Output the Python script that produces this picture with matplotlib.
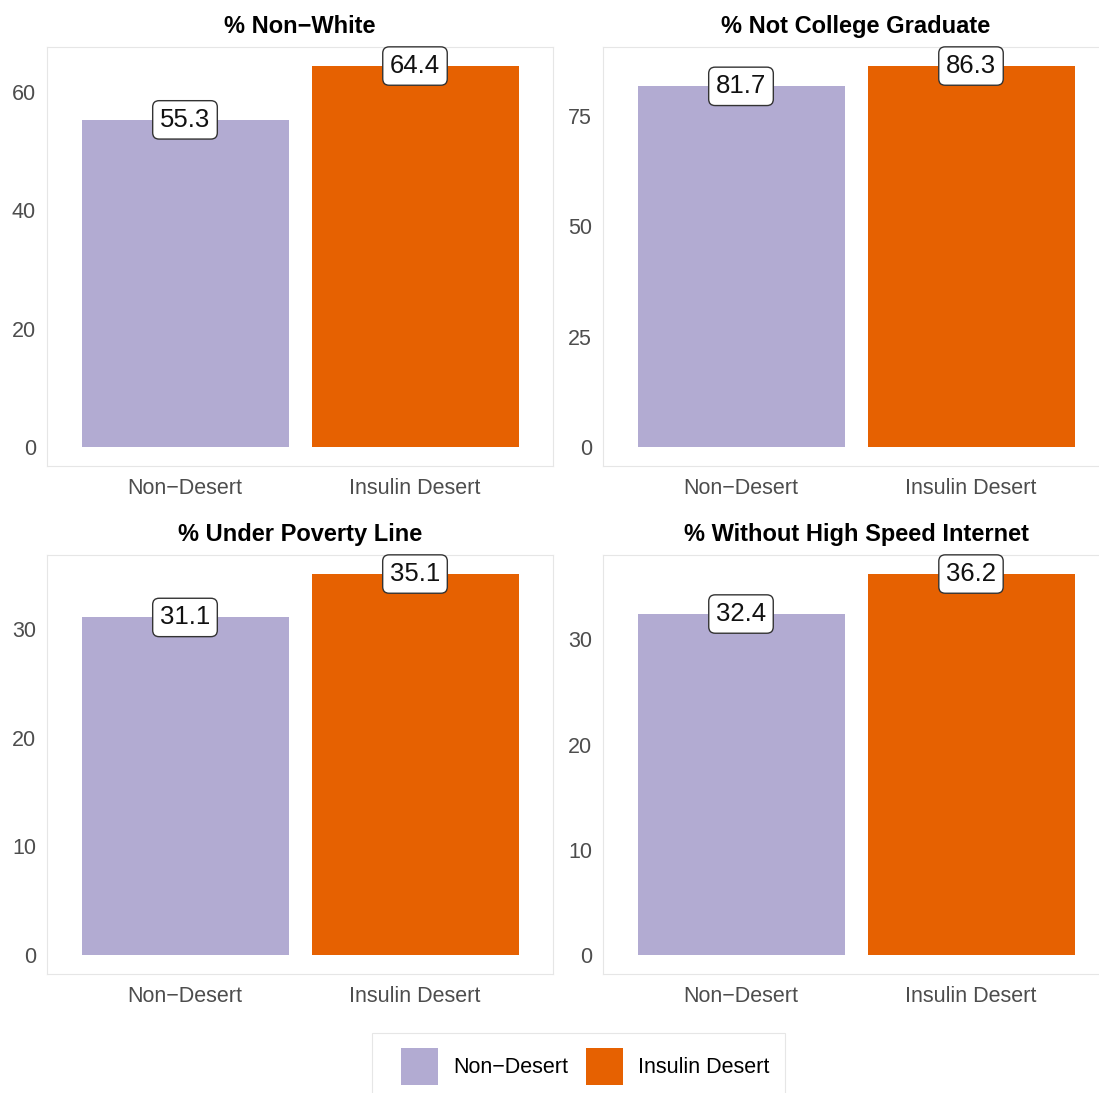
import matplotlib
matplotlib.use("Agg")
import matplotlib.pyplot as plt
from matplotlib.patches import Patch, Rectangle

plt.rcParams['font.family'] = ['Liberation Sans', 'DejaVu Sans']

categories = ["Non\u2212Desert", "Insulin Desert"]
titles = ["% Non\u2212White", "% Not College Graduate",
          "% Under Poverty Line", "% Without High Speed Internet"]
non_desert = [55.3, 81.7, 31.1, 32.4]
insulin_desert = [64.4, 86.3, 35.1, 36.2]
yticks = [[0, 20, 40, 60], [0, 25, 50, 75], [0, 10, 20, 30], [0, 10, 20, 30]]

colors = ["#b2abd2", "#e66101"]
W, H = 1099, 1093

fig = plt.figure(figsize=(W / 100, H / 100), dpi=100)

# panel boxes in pixels: left, top, right, bottom (right column runs off the canvas)
boxes = [(47, 47, 553, 466), (603, 47, 1109, 466),
         (47, 555, 553, 974), (603, 555, 1109, 974)]

for i, (l, t, r, b) in enumerate(boxes):
    ax = fig.add_axes([l / W, 1 - b / H, (r - l) / W, (b - t) / H])
    vals = [non_desert[i], insulin_desert[i]]
    x = [1, 2]
    ax.bar(x, vals, width=0.9, color=colors)
    top = max(vals)
    ax.set_ylim(-0.05 * top, top * 1.05)
    ax.set_xlim(0.4, 2.6)
    ax.set_xticks(x)
    ax.set_xticklabels(categories)
    ax.set_yticks(yticks[i])
    ax.tick_params(length=0, labelsize=15.5, labelcolor="#4d4d4d")
    ax.tick_params(axis="x", pad=9)
    ax.tick_params(axis="y", pad=8)
    for s in ax.spines.values():
        s.set_color("#e6e6e6")
        s.set_linewidth(0.8)
    for xi, v in zip(x, vals):
        ax.text(xi, v, f"{v:.1f}", ha="center", va="center", fontsize=18.5,
                color="#111111",
                bbox=dict(boxstyle="round,pad=0.28,rounding_size=0.25",
                          fc="white", ec="#333333", lw=1.0))
    ax.set_title(titles[i], fontsize=17, fontweight="bold", pad=10)

# legend frame
fig.patches.append(Rectangle((372 / W, 1 - 1100 / H), (785 - 372) / W, 67 / H,
                             transform=fig.transFigure, fc="white",
                             ec="#e6e6e6", lw=0.8, zorder=0))
handles = [Patch(facecolor=c, edgecolor="none") for c in colors]
fig.legend(handles, categories, loc="upper left",
           bbox_to_anchor=(401 / W, 1 - 1048 / H), ncol=2, fontsize=15.5,
           frameon=False, borderpad=0, borderaxespad=0,
           handlelength=1.72, handleheight=2.27, handletextpad=0.7,
           columnspacing=0.85)

fig.savefig("out.png", dpi=100)
